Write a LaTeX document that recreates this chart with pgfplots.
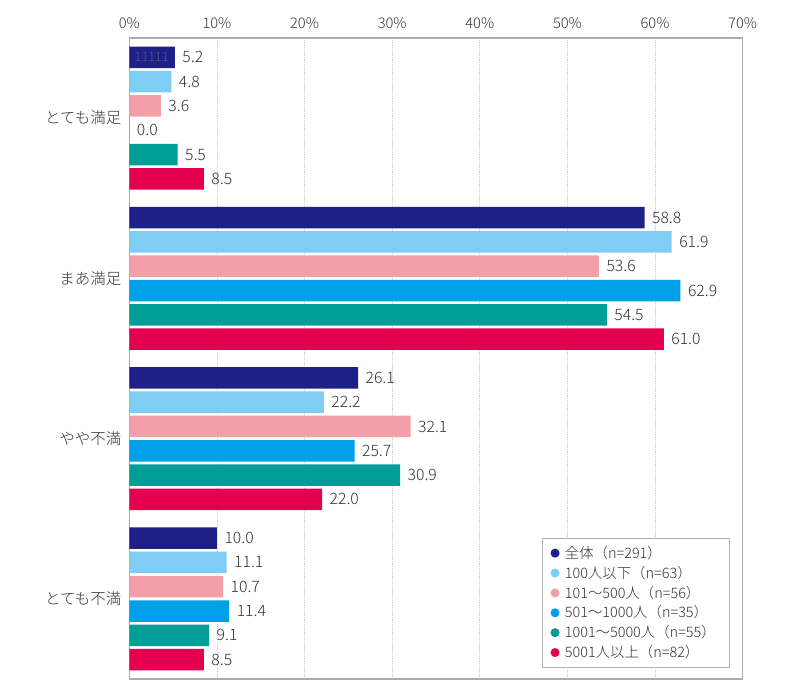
\documentclass[border=0pt]{standalone}
\usepackage{pgfplots}
\pgfplotsset{compat=1.18}
\usepackage{fontspec}
\setmainfont{Noto Sans CJK JP Light}
\definecolor{c1}{HTML}{1D2087}
\definecolor{c2}{HTML}{7ECEF4}
\definecolor{c3}{HTML}{F29FA8}
\definecolor{c4}{HTML}{00A0E9}
\definecolor{c5}{HTML}{009E96}
\definecolor{c6}{HTML}{E4004F}
\definecolor{txt}{HTML}{333333}
\begin{document}
\begin{tikzpicture}
\useasboundingbox (-97pt,-15.75pt) rectangle (503pt,509.25pt);
\begin{axis}[
  at={(0pt,0pt)}, anchor=south west, scale only axis,
  width=460pt, height=480.75pt,
  xbar, bar width=0.134,
  xmin=0, xmax=70, ymin=-0.5, ymax=3.5, y dir=reverse,
  ytick={0,1,2,3},
  yticklabels={とても満足,まあ満足,やや不満,とても不満},
  xtick={0,10,...,70},
  xticklabel={\pgfmathprintnumber{\tick}\%},
  xticklabel pos=upper,
  /pgf/number format/assume math mode=true,
  major tick length=0pt,
  xmajorgrids, grid style={densely dotted, gray!40, line width=0.6pt},
  axis line style={draw=gray!65, line width=0.8pt},
  xticklabel style={font=\fontsize{11}{13}\selectfont, text=txt, yshift=3.5pt},
  yticklabel style={font=\fontsize{11.6}{13}\selectfont, text=txt, xshift=-2.5pt},
  nodes near coords={\pgfmathprintnumber[fixed, fixed zerofill, precision=1]{\pgfplotspointmeta}},
  every node near coord/.append style={anchor=west, inner sep=0pt, xshift=5.5pt,
     font=\fontsize{11.8}{13}\selectfont, text=txt},
  legend cell align=left,
  legend image code/.code={\fill[#1, draw=none] (0.05cm,0cm) circle (3.4pt);},
  legend style={at={(0.673,0.017)}, anchor=south west, draw=gray!60, line width=0.6pt,
     fill=white, font=\fontsize{10.8}{12}\selectfont, text=txt,
     row sep=0.2pt, inner xsep=6pt, inner ysep=4pt,
     nodes={inner xsep=4pt}},
]
\addplot[fill=c1, draw=none, bar shift=-0.379] coordinates {(5.2,0) (58.8,1) (26.1,2) (10.0,3)};
\addlegendentry{全体（n=291）}
\addplot[fill=c2, draw=none, bar shift=-0.2275] coordinates {(4.8,0) (61.9,1) (22.2,2) (11.1,3)};
\addlegendentry{100人以下（n=63）}
\addplot[fill=c3, draw=none, bar shift=-0.0758] coordinates {(3.6,0) (53.6,1) (32.1,2) (10.7,3)};
\addlegendentry{101〜500人（n=56）}
\addplot[fill=c4, draw=none, bar shift=0.0758] coordinates {(0.0,0) (62.9,1) (25.7,2) (11.4,3)};
\addlegendentry{501〜1000人（n=35）}
\addplot[fill=c5, draw=none, bar shift=0.2275] coordinates {(5.5,0) (54.5,1) (30.9,2) (9.1,3)};
\addlegendentry{1001〜5000人（n=55）}
\addplot[fill=c6, draw=none, bar shift=0.379] coordinates {(8.5,0) (61.0,1) (22.0,2) (8.5,3)};
\addlegendentry{5001人以上（n=82）}
\node[font=\fontsize{9.5}{11}\selectfont, text=gray!60!c1, anchor=center] at (axis cs:2.55,-0.379) {11111};
\end{axis}
\end{tikzpicture}
\end{document}
